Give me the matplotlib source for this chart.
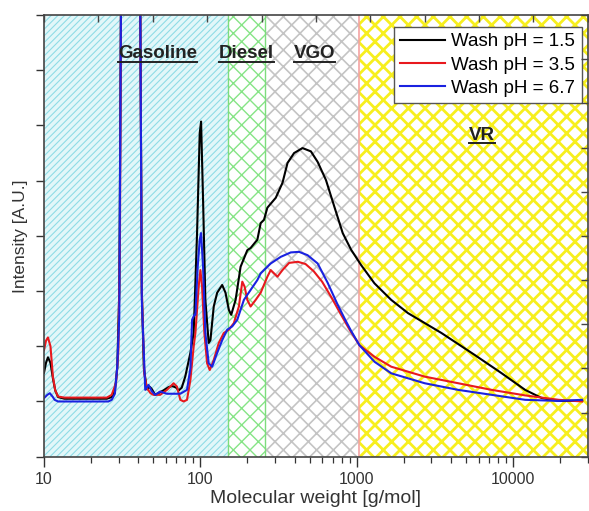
import numpy as np
import matplotlib
matplotlib.use('Agg')
import matplotlib.pyplot as plt

plt.rcParams['font.family'] = ['Liberation Sans', 'DejaVu Sans']

# molecular weight [g/mol] and intensity for each wash
mw_15 = [10, 10.3, 10.6, 11.0, 11.4, 11.8, 12.3, 13.5, 25.2, 27.1, 28.4, 29.4, 30.3, 31.1,
         32.5, 36, 40, 41.2, 42.2, 43.5, 45.5, 47.7, 49, 51.4, 55.3, 58, 62.6, 66.1, 70, 72.6,
         76, 80, 86.3, 90.6, 95.2, 99, 101, 104, 107.6, 113, 115.9, 121.7, 128, 137.8, 144.7,
         152, 157.4, 167.9, 180.7, 199.5, 209.4, 231.3, 242.9, 255, 268, 303.4, 334.8, 360.6,
         397.2, 449.8, 508.8, 561.8, 635.2, 718.1, 812.8, 919.1, 1066, 1297, 1660, 2126, 3478,
         5692, 8450, 11920, 15270, 19540, 27590]
int_15 = [1.52, 1.70, 1.80, 1.70, 1.42, 1.20, 1.08, 1.05, 1.05, 1.08, 1.20, 1.60, 3.0, 8.5,
          14, 12, 14, 8.5, 3.0, 1.6, 1.22, 1.26, 1.22, 1.12, 1.17, 1.20, 1.26, 1.28, 1.25, 1.20,
          1.25, 1.45, 1.88, 2.24, 4.05, 5.86, 6.07, 4.65, 2.84, 2.06, 2.11, 2.72, 2.97, 3.11, 2.97,
          2.66, 2.57, 2.84, 3.44, 3.74, 3.78, 3.93, 4.23, 4.29, 4.51, 4.69, 4.96, 5.32,
          5.50, 5.59, 5.53, 5.34, 5.01, 4.53, 4.05, 3.75, 3.47, 3.14, 2.84, 2.60, 2.24,
          1.84, 1.51, 1.21, 1.06, 1.01, 1.01]

mw_35 = [10, 10.3, 10.6, 11.0, 11.4, 11.8, 12.3, 13.5, 25.2, 27.1, 28.9, 29.9, 30.6, 31.1,
         33, 40.6, 41.2, 42.2, 43.8, 45.5, 48, 50.1, 55.3, 61.1, 67.4, 70.8, 74.4, 78.2, 82.1,
         86.3, 90.6, 92.9, 97.5, 100, 102.5, 106, 110.4, 114.7, 121.7, 131.1, 141.1, 152, 163.7,
         176.2, 185.3, 191.7, 199.5, 209.4, 225.6, 242.9, 268, 281.6, 295.8, 310.9, 334.8, 369,
         420, 470, 530, 600, 690, 790, 900, 1039, 1297, 1660, 2718, 4454, 7288, 11920, 19540,
         27590]
int_35 = [1.93, 2.10, 2.16, 2.0, 1.45, 1.20, 1.09, 1.07, 1.07, 1.12, 1.34, 1.93, 4.0, 8.5,
          14, 14, 8.5, 3.0, 1.5, 1.24, 1.15, 1.12, 1.12, 1.21, 1.33, 1.27, 1.03, 1.00, 1.03,
          1.39, 2.0, 2.24, 3.08, 3.38, 3.08, 2.24, 1.69, 1.57, 1.75, 2.06, 2.24, 2.30, 2.42,
          2.72, 3.17, 3.08, 2.84, 2.72, 2.84, 2.97, 3.26, 3.38, 3.32, 3.26, 3.38, 3.51,
          3.53, 3.49, 3.36, 3.17, 2.88, 2.58, 2.30, 2.02, 1.81, 1.63, 1.45, 1.33, 1.21, 1.11, 1.03,
          1.00]

mw_67 = [10, 10.5, 10.9, 11.4, 11.7, 12.3, 25.8, 27.1, 28.4, 29.4, 30.3, 31.1, 35, 41.2,
         42.2, 44.4, 46.6, 49, 51.4, 55.3, 61.1, 74.4, 82.1, 86.3, 88.5, 91.5, 92.9, 96.1, 99,
         101, 104, 107.6, 113, 118.9, 128, 137.8, 148.4, 159.8, 172.1, 189.7, 209.4, 231.3,
         242.9, 268, 281.6, 326.5, 378.4, 427.9, 484.2, 561.8, 651.1, 755, 853.7, 919, 1039,
         1297, 1660, 2718, 4454, 7288, 11920, 19540, 27590]
int_67 = [1.06, 1.12, 1.15, 1.08, 1.03, 1.00, 1.00, 1.03, 1.14, 1.63, 2.54, 8.5, 14, 8.5,
          2.84, 1.21, 1.30, 1.18, 1.12, 1.18, 1.14, 1.14, 1.21, 1.6, 2.48, 2.57, 2.57, 3.44, 3.93,
          4.05, 3.44, 2.24, 1.69, 1.63, 1.88, 2.11, 2.30, 2.36, 2.48, 2.84, 3.02, 3.20,
          3.32, 3.44, 3.50, 3.62, 3.70, 3.71, 3.65, 3.50, 3.15, 2.75, 2.45, 2.28, 2.02,
          1.72, 1.51, 1.33, 1.21, 1.12, 1.03, 1.01, 1.03]

# boiling fractions by molecular weight
cut_names = ['Gasoline', 'Diesel', 'VGO', 'VR']
cut_edges = [10, 150, 260, 1040, 30000]

fig = plt.figure(figsize=(5.89, 5.11), dpi=100)
ax = fig.add_axes([0.0747, 0.1063, 0.9233, 0.8643])
ax.set_xscale('log')
ax.set_xlim(10, 30000)
ax.set_ylim(0, 8)

# hatched fraction bands
bands = [
    dict(fc='#e2f7f9', ec='#8fdce6', hatch='/////', hlw=0.8),
    dict(fc='white', ec='#86e486', hatch='xx', hlw=1.0),
    dict(fc='white', ec='#c4c4c4', hatch='xx', hlw=1.2),
    dict(fc='white', ec='#f7ef1e', hatch='xx', hlw=2.0),
]
for i, b in enumerate(bands):
    with plt.rc_context({'hatch.linewidth': b['hlw']}):
        p = ax.axvspan(cut_edges[i], cut_edges[i + 1], facecolor=b['fc'],
                       edgecolor=b['ec'], hatch=b['hatch'], linewidth=0, zorder=0)
        if hasattr(p, 'set_hatch_linewidth'):
            p.set_hatch_linewidth(b['hlw'])

ax.axvline(cut_edges[1], color='#7ddc7d', lw=1.0, zorder=1)
ax.axvline(cut_edges[2], color='#7ddc7d', lw=1.0, zorder=1)
ax.axvline(cut_edges[3], color='#f4a3a3', lw=1.2, zorder=1)

ax.plot(mw_15, int_15, color='black', lw=1.5, label='Wash pH = 1.5', zorder=3)
ax.plot(mw_35, int_35, color='#e8191e', lw=1.5, label='Wash pH = 3.5', zorder=3)
ax.plot(mw_67, int_67, color='#1a22e0', lw=1.5, label='Wash pH = 6.7', zorder=3)

# fraction labels
label_pos = [(53, 7.3), (196, 7.3), (536, 7.3), (6350, 5.82)]
texts = []
for name, (lx, ly) in zip(cut_names, label_pos):
    t = ax.text(lx, ly, name, ha='center', va='center', fontsize=13.5,
                fontweight='bold', color='#222222', zorder=4)
    texts.append(t)

leg = ax.legend(loc='upper right', bbox_to_anchor=(0.9884, 0.9735), fontsize=13.5,
                frameon=True, fancybox=False, framealpha=1, edgecolor='#555555',
                handlelength=2.4, handletextpad=0.3, borderpad=0.35, labelspacing=0.32,
                borderaxespad=0)
leg.get_frame().set_linewidth(1.0)
leg.set_zorder(5)

ax.set_yticks(range(0, 9))
ax.set_yticklabels([])
ax.set_xticks([10, 100, 1000, 10000])
ax.set_xticklabels(['10', '100', '1000', '10000'])
ax.tick_params(axis='x', which='major', direction='out', length=7, width=1.0,
               labelsize=11.5, colors='#333333', pad=4)
ax.tick_params(axis='x', which='minor', direction='out', length=4, width=0.9, colors='#333333')
ax.tick_params(axis='y', direction='out', length=6, width=1.0, colors='#333333')

ax.set_xlabel('Molecular weight [g/mol]', fontsize=14, color='#333333', labelpad=2)
ax.set_ylabel('Intensity [A.U.]', fontsize=12.5, color='#333333', labelpad=2)

for s in ax.spines.values():
    s.set_color('#444444')
    s.set_linewidth(1.2)
    s.set_zorder(6)

# mirror axes with plain linear ticks pointing inward
top = ax.twiny()
top.set_xlim(0, 10)
top.set_xticks(range(0, 11))
top.tick_params(axis='x', direction='in', length=5, width=1.0, labeltop=False, colors='#444444')
right = ax.twinx()
right.set_ylim(0, 10)
right.set_yticks(range(0, 11))
right.tick_params(axis='y', direction='in', length=5, width=1.0, labelright=False, colors='#444444')
for a in (top, right):
    for s in a.spines.values():
        s.set_visible(False)

# underline the fraction labels
fig.canvas.draw()
renderer = fig.canvas.get_renderer()
inv = fig.transFigure.inverted()
for t in texts:
    bb = t.get_window_extent(renderer)
    (x0, y0), (x1, _) = inv.transform([(bb.x0, bb.y0), (bb.x1, bb.y1)])
    fig.add_artist(plt.Line2D([x0, x1], [y0 + 0.001, y0 + 0.001], transform=fig.transFigure,
                              color='#222222', lw=1.4, zorder=10))

fig.savefig('out.png', dpi=100)
